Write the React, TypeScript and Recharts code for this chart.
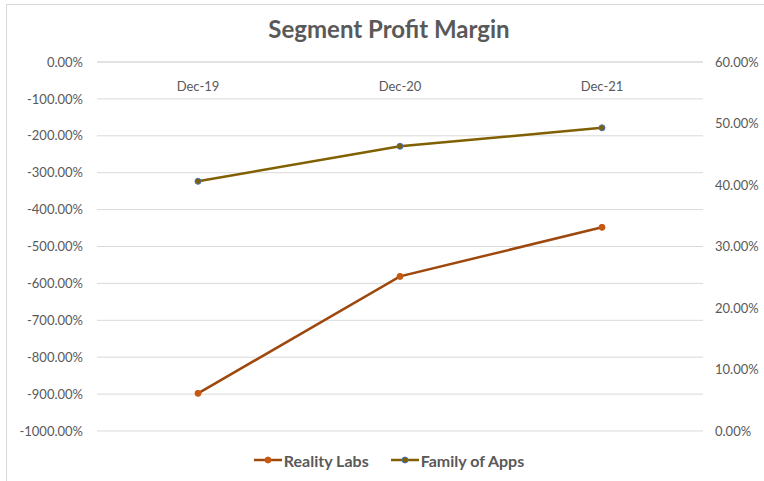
import React from 'react';
import { LineChart, Line, XAxis, YAxis, CartesianGrid, Legend } from 'recharts';

const periods = ['Dec-19', 'Dec-20', 'Dec-21'];
const realityLabs = [-8.98, -5.81, -4.48];
const familyOfApps = [0.406, 0.463, 0.493];
const leftTicks = [0, -1, -2, -3, -4, -5, -6, -7, -8, -9, -10];
const rightTicks = [0, 0.1, 0.2, 0.3, 0.4, 0.5, 0.6];

const FONT = 'Lato, "Open Sans", sans-serif';
const TEXT = '#595959';
const RL_COLOR = '#9E480E';
const FOA_COLOR = '#806000';

const chartData = periods.map((p, i) => ({
  period: p,
  rl: realityLabs[i],
  foa: familyOfApps[i],
}));

const pct = (v: number) => `${(v * 100).toFixed(2)}%`;

function LegendContent() {
  const items = [
    { label: 'Reality Labs', line: RL_COLOR, fill: '#C65911', stroke: '#C65911' },
    { label: 'Family of Apps', line: FOA_COLOR, fill: '#7F6000', stroke: '#4472C4' },
  ];
  return (
    <div style={{ display: 'flex', justifyContent: 'center', gap: 22, height: 20, alignItems: 'center' }}>
      {items.map((it) => (
        <div key={it.label} style={{ display: 'flex', alignItems: 'center' }}>
          <svg width={28} height={10} style={{ marginRight: 2 }}>
            <line x1={0} y1={5} x2={28} y2={5} stroke={it.line} strokeWidth={2.5} />
            <circle cx={14} cy={5} r={3} fill={it.fill} stroke={it.stroke} strokeWidth={1} />
          </svg>
          <span style={{ fontFamily: FONT, fontSize: 16, fontWeight: 700, color: TEXT }}>{it.label}</span>
        </div>
      ))}
    </div>
  );
}

export default function App() {
  return (
    <div style={{ position: 'absolute', left: 0, top: 0, width: 764, height: 481, background: '#fff', overflow: 'hidden' }}>
      <div style={{ position: 'absolute', left: 6, top: 4, width: 800, height: 520, border: '1px solid #d9d9d9' }} />
      <div
        style={{
          position: 'absolute',
          top: 14,
          left: 0,
          width: 778,
          textAlign: 'center',
          fontFamily: FONT,
          fontSize: 24,
          fontWeight: 700,
          color: TEXT,
        }}
      >
        Segment Profit Margin
      </div>
      <div style={{ position: 'absolute', left: 0, top: 0 }}>
        <LineChart width={764} height={481} data={chartData} margin={{ top: 62, right: 0, bottom: 30, left: 0 }}>
          <CartesianGrid yAxisId="left" horizontal vertical={false} stroke="#d9d9d9" />
          <XAxis
            dataKey="period"
            orientation="top"
            mirror
            xAxisId={0}
            yAxisId="left"
            padding={{ left: 101, right: 101 }}
            axisLine={{ stroke: '#d9d9d9' }}
            tickLine={false}
            tickMargin={14}
            tick={{ fill: TEXT, fontSize: 13, fontFamily: FONT }}
          />
          <YAxis
            yAxisId="left"
            width={97}
            domain={[-10, 0]}
            ticks={leftTicks}
            tickFormatter={pct}
            axisLine={false}
            tickLine={false}
            tickMargin={8}
            tick={{ fill: TEXT, fontSize: 13, fontFamily: FONT }}
          />
          <YAxis
            yAxisId="right"
            orientation="right"
            width={61}
            domain={[0, 0.6]}
            ticks={rightTicks}
            tickFormatter={pct}
            axisLine={false}
            tickLine={false}
            tickMargin={6}
            tick={{ fill: TEXT, fontSize: 13, fontFamily: FONT, textAnchor: 'start' }}
          />
          <Legend verticalAlign="bottom" content={<LegendContent />} wrapperStyle={{ bottom: 11, left: 0, width: 778 }} />
          <Line
            yAxisId="left"
            dataKey="rl"
            name="Reality Labs"
            stroke={RL_COLOR}
            strokeWidth={2.5}
            dot={{ r: 3, fill: '#C65911', stroke: '#C65911', strokeWidth: 1 }}
            isAnimationActive={false}
          />
          <Line
            yAxisId="right"
            dataKey="foa"
            name="Family of Apps"
            stroke={FOA_COLOR}
            strokeWidth={2.5}
            dot={{ r: 3, fill: '#7F6000', stroke: '#4472C4', strokeWidth: 1 }}
            isAnimationActive={false}
          />
        </LineChart>
      </div>
    </div>
  );
}
